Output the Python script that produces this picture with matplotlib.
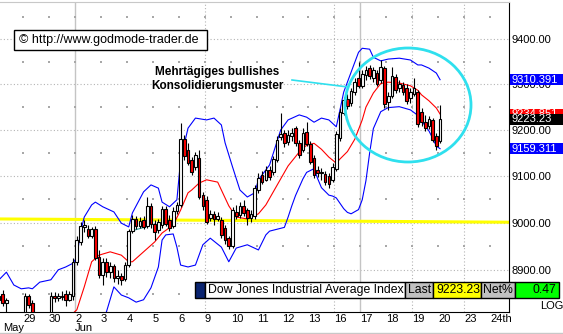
import matplotlib
matplotlib.use("Agg")
import matplotlib.pyplot as plt
from matplotlib.patches import Rectangle, Ellipse
from matplotlib.lines import Line2D
from matplotlib.ticker import FixedLocator, NullLocator, NullFormatter

plt.rcParams['font.family'] = ['Liberation Sans', 'DejaVu Sans']

# ---- data: hourly DJIA bars, 7 per trading day, 28 May .. 20 Jun ----
BARS_PER_DAY = 7
day_labels = ['28', '29', '30', '2', '3', '4', '5', '6', '9', '10', '11',
              '12', '13', '16', '17', '18', '19', '20', '23', '24th']

opens = [8837, 8849, 8830, 8807, 8799, 8795, 8799, 8803, 8845, 8830,
         8807, 8799, 8795, 8801, 8803, 8845, 8841, 8845, 8849, 8837,
         8845, 8917, 8959, 8991, 8987, 8972, 8987, 8927, 8889, 8917,
         8895, 8908, 8883, 8887, 8881, 8910, 8982, 9008, 8993, 9006,
         8993, 9036, 8997, 8984, 8995, 9029, 9006, 8993, 9025, 9038,
         9180, 9157, 9135, 9120, 9139, 9059, 9049, 9010, 9019, 9008,
         9006, 8989, 8967, 8951, 9023, 9016, 9036, 9027, 9010, 9014,
         9070, 9102, 9092, 9113, 9109, 9135, 9185, 9193, 9174, 9187,
         9204, 9172, 9157, 9196, 9169, 9139, 9113, 9107, 9104, 9100,
         9092, 9115, 9183, 9237, 9268, 9259, 9283, 9314, 9296, 9321,
         9336, 9314, 9325, 9310, 9336, 9261, 9274, 9316, 9292, 9299,
         9292, 9270, 9279, 9283, 9239, 9217, 9209, 9222, 9187, 9176]
highs = [8853, 8858, 8841, 8809, 8807, 8803, 8809, 8851, 8849, 8837,
         8809, 8805, 8805, 8809, 8853, 8853, 8851, 8855, 8858, 8855,
         8925, 8972, 9002, 9006, 8995, 8991, 8993, 8942, 8925, 8925,
         8917, 8912, 8900, 8893, 8917, 8987, 9016, 9014, 9012, 9014,
         9055, 9042, 9006, 9008, 9036, 9036, 9016, 9034, 9044, 9215,
         9189, 9172, 9141, 9152, 9157, 9066, 9057, 9027, 9025, 9023,
         9012, 8995, 8972, 9034, 9038, 9044, 9049, 9032, 9027, 9081,
         9107, 9111, 9122, 9122, 9143, 9187, 9237, 9200, 9200, 9204,
         9209, 9178, 9204, 9217, 9176, 9146, 9122, 9117, 9111, 9107,
         9128, 9198, 9248, 9272, 9279, 9292, 9314, 9350, 9332, 9341,
         9343, 9338, 9332, 9354, 9341, 9283, 9338, 9323, 9310, 9305,
         9301, 9292, 9314, 9288, 9248, 9233, 9230, 9226, 9193, 9255]
lows = [8830, 8824, 8811, 8791, 8785, 8785, 8795, 8799, 8820, 8799,
        8791, 8787, 8789, 8795, 8799, 8832, 8834, 8837, 8824, 8834,
        8837, 8910, 8953, 8980, 8967, 8967, 8921, 8883, 8868, 8885,
        8883, 8874, 8870, 8868, 8876, 8906, 8978, 8987, 8989, 8987,
        8989, 8989, 8963, 8978, 8989, 8993, 8982, 8989, 9019, 9034,
        9135, 9124, 9102, 9113, 9051, 9027, 8997, 9004, 8995, 9004,
        8967, 8955, 8944, 8946, 9008, 9010, 9014, 8995, 9002, 9008,
        9064, 9083, 9090, 9092, 9102, 9130, 9178, 9163, 9167, 9176,
        9165, 9139, 9152, 9165, 9126, 9096, 9098, 9092, 9081, 9074,
        9087, 9111, 9176, 9233, 9246, 9252, 9277, 9292, 9292, 9310,
        9312, 9305, 9296, 9303, 9248, 9244, 9270, 9281, 9283, 9277,
        9257, 9259, 9274, 9207, 9209, 9198, 9202, 9174, 9157, 9172]
closes = [8845, 8830, 8837, 8799, 8795, 8799, 8807, 8845, 8826, 8807,
          8799, 8795, 8801, 8805, 8845, 8841, 8845, 8843, 8837, 8849,
          8917, 8963, 8993, 8995, 8972, 8987, 8925, 8889, 8917, 8895,
          8908, 8883, 8887, 8879, 8910, 8982, 9008, 8993, 9004, 8991,
          9036, 8997, 8980, 9002, 9029, 8997, 8989, 9025, 9038, 9180,
          9143, 9128, 9109, 9146, 9055, 9036, 9002, 9019, 9008, 9014,
          8974, 8963, 8951, 9027, 9014, 9036, 9021, 9010, 9019, 9074,
          9096, 9087, 9113, 9098, 9137, 9178, 9191, 9172, 9189, 9193,
          9172, 9146, 9193, 9169, 9130, 9102, 9107, 9109, 9087, 9083,
          9120, 9191, 9239, 9266, 9252, 9285, 9305, 9296, 9323, 9332,
          9318, 9332, 9301, 9338, 9257, 9274, 9318, 9288, 9301, 9283,
          9263, 9283, 9292, 9213, 9217, 9204, 9224, 9178, 9165, 9223.23]

# Bollinger bands / moving average, read at sample bars
upper_idx = [0, 2, 4, 6, 8, 9, 11, 14, 16, 18, 20, 21, 22, 23, 25, 26, 28, 31, 33, 35,
             36, 39, 41, 43, 44, 46, 48, 49, 51, 53, 56, 58, 60, 61, 63, 65, 67, 69, 70, 73,
             76, 78, 81, 83, 85, 87, 89, 91, 92, 93, 95, 97, 98, 100, 101, 103, 105, 108, 111, 113,
             114, 116, 118, 119]
upper_val = [8879, 8895, 8868, 8860, 8862, 8860, 8874, 8879, 8900, 8906, 8914, 8927, 8980, 9012, 9038, 9044, 9034, 9023, 8999, 8991,
             9021, 9066, 9081, 9074, 9044, 9034, 9049, 9135, 9204, 9226, 9222, 9226, 9211, 9172, 9120, 9070, 9055, 9064, 9092, 9124,
             9200, 9222, 9233, 9228, 9217, 9226, 9222, 9207, 9244, 9283, 9327, 9371, 9380, 9378, 9360, 9352, 9356, 9358, 9354, 9343,
             9343, 9336, 9325, 9310.391]
mid_idx = [0, 10, 18, 21, 23, 25, 27, 30, 33, 35, 36, 39, 42, 44, 47, 49, 51, 52, 54, 56,
           59, 60, 62, 64, 67, 70, 72, 73, 76, 78, 81, 83, 85, 87, 89, 91, 92, 94, 96, 98,
           99, 101, 103, 105, 108, 111, 113, 114, 116, 118, 119]
mid_val = [8760, 8770, 8795, 8816, 8864, 8917, 8931, 8938, 8931, 8917, 8917, 8938, 8959, 8978, 8995, 9027, 9064, 9070, 9085, 9092,
           9087, 9070, 9036, 9012, 9008, 9019, 9038, 9052, 9094, 9122, 9152, 9167, 9171, 9158, 9141, 9128, 9137, 9153, 9180, 9222,
           9250, 9281, 9302, 9305, 9303, 9297, 9287, 9277, 9264, 9248, 9234.851]
lower_idx = [0, 15, 22, 26, 29, 31, 33, 35, 37, 39, 41, 43, 44, 45, 47, 48, 49, 51, 53, 55,
             57, 60, 62, 64, 67, 70, 72, 73, 77, 78, 79, 80, 82, 83, 85, 86, 87, 89, 90, 91,
             93, 94, 95, 97, 98, 99, 100, 101, 103, 105, 108, 111, 113, 114, 116, 117, 118, 119]
lower_val = [8720, 8700, 8720, 8770, 8812, 8864, 8847, 8841, 8832, 8837, 8862, 8906, 8963, 8974, 8976, 8948, 8910, 8906, 8910, 8953,
             8967, 8948, 8917, 8946, 8953, 8942, 8974, 8982, 8990, 9012, 9036, 9058, 9094, 9108, 9116, 9094, 9075, 9059, 9057, 9053,
             9030, 9022, 9019, 9028, 9049, 9090, 9150, 9203, 9240, 9249, 9251, 9244, 9232, 9220, 9198, 9182, 9165, 9159.311]

support_idx = [0, 138]
support_val = [9008, 9001]
old_trend_idx = [36, 40]
old_trend_val = [8983, 8992]

price_ticks = [8900, 9000, 9100, 9200, 9300, 9400]
title = 'Dow Jones Industrial Average Index'
last_txt = '9223.23'
net_txt = '0.47'
upper_txt = '9310.391'
lower_txt = '9159.311'
mid_txt = '9234.851'

# ---- figure ----
W, H = 563, 334
fig = plt.figure(figsize=(W / 100, H / 100), dpi=100)
ax = fig.add_axes([0, 1 - 312 / H, 509 / W, 310 / H])
ax.set_yscale('log')
ax.set_xlim(0.27, 137.6)
ax.set_ylim(8811.4, 9483.5)


def fx(px):
    return px / W


def fy(py):
    return 1 - py / H


# grid
boundaries = [k * BARS_PER_DAY - 0.5 for k in range(1, len(day_labels))]
for p in price_ticks:
    ax.axhline(p, color='#b4b4b4', lw=0.8, ls=(0, (1, 2)), zorder=0)
for b in (boundaries[2], boundaries[13]):
    ax.axvline(b, color='#c4c4c4', lw=1.0, zorder=0)
for b in (boundaries[7], boundaries[12], boundaries[15], boundaries[17]):
    ax.axvline(b, color='#b4b4b4', lw=0.8, ls=(0, (1, 2)), zorder=0)
dot_x, dot_y = [], []
for b in boundaries:
    for lvl in range(8850, 9500, 100):
        dot_x.append(b)
        dot_y.append(lvl)
ax.scatter(dot_x, dot_y, s=0.8, marker='s', color='#a8a8a8', linewidths=0, zorder=0)

# support lines
ax.plot(support_idx, support_val, color='#ffff00', lw=2.2, zorder=1)
ax.plot(old_trend_idx, old_trend_val, color='#2a9a9a', lw=0.8, zorder=1)

# bands
ax.plot(upper_idx, upper_val, color='#0000ff', lw=0.8, zorder=2)
ax.plot(lower_idx, lower_val, color='#0000ff', lw=0.8, zorder=2)
ax.plot(mid_idx, mid_val, color='#ff0000', lw=0.8, zorder=2)

# candles
idx = list(range(len(closes)))
ax.vlines(idx, lows, highs, color='black', lw=0.8, zorder=3)
body_bottom = [min(o, c) for o, c in zip(opens, closes)]
body_height = [max(abs(c - o), 0.8) for o, c in zip(opens, closes)]
fills = ['#ff0000' if c < o else 'white' for o, c in zip(opens, closes)]
ax.bar(idx, body_height, bottom=body_bottom, width=0.72, color=fills,
       edgecolor='black', linewidth=0.8, zorder=4)

# axes styling
ax.spines['left'].set_visible(False)
ax.spines['top'].set_color('#c8c8c8')
ax.spines['right'].set_color('black')
ax.spines['bottom'].set_color('black')
ax.yaxis.tick_right()
ax.yaxis.set_major_locator(FixedLocator(price_ticks))
ax.set_yticklabels(['%.2f' % p for p in price_ticks])
ax.yaxis.set_minor_locator(NullLocator())
ax.yaxis.set_minor_formatter(NullFormatter())
ax.tick_params(axis='y', length=0, pad=2, labelsize=8)
ax.set_xticks(boundaries)
ax.set_xticklabels(day_labels[1:])
ax.tick_params(axis='x', length=0, pad=1.5, labelsize=8)
for lbl in ax.get_xticklabels():
    lbl.set_horizontalalignment('left')

fig.text(fx(3), fy(328), 'May', fontsize=8, va='center', ha='left')
fig.text(fx(75), fy(328), 'Jun', fontsize=8, va='center', ha='left')
fig.text(fx(540), fy(306), 'LOG', fontsize=8, va='center', ha='left')
fig.add_artist(Line2D([0, 1], [fy(332.5), fy(332.5)], color='#c8c8c8', lw=1,
                      transform=fig.transFigure))


# value boxes on the price scale
def side_box(value, text, face, z):
    ypx = ax.transData.transform((0, value))[1]
    fig.add_artist(Rectangle((fx(510), (ypx - 5.5) / H), fx(53), 11 / H,
                             transform=fig.transFigure, fc=face, ec='none', zorder=z))
    fig.text(fx(511), ypx / H, text, color='white', fontsize=8, va='center',
             ha='left', zorder=z + 0.5)


side_box(upper_val[-1], upper_txt, '#0000ff', 5)
side_box(lower_val[-1], lower_txt, '#0000ff', 5)
side_box(mid_val[-1], mid_txt, '#ff0000', 5)
side_box(closes[-1], last_txt, 'black', 7)

# copyright box
fig.add_artist(Rectangle((fx(14), fy(50)), fx(193), 20 / H, transform=fig.transFigure,
                         fc='white', ec='black', lw=1, zorder=5))
fig.text(fx(19), fy(40), '\u00a9 http://www.godmode-trader.de', fontsize=9,
         va='center', ha='left', zorder=6)

# annotation
fig.text(fx(217), fy(79), 'Mehrt\u00e4giges bullishes\nKonsolidierungsmuster',
         fontsize=8.5, fontweight='bold', ha='center', va='center',
         multialignment='center', zorder=6)
fig.add_artist(Line2D([fx(292), fx(348)], [fy(80), fy(87)], color='#2fe0ee', lw=1.2,
                      transform=fig.transFigure, zorder=6))
fig.add_artist(Ellipse((fx(408), fy(105)), fx(126), 114 / H, transform=fig.transFigure,
                       fill=False, ec='#2fe0ee', lw=2, zorder=6))

# info bar
y0, y1 = 281.7, 298.3
cells = [(195, 205, '#0a2470'), (205, 405, 'white'), (405, 433, '#c0c0c0'),
         (433, 481, '#ffff00'), (481, 515, '#c0c0c0'), (515, 559, '#00ff00')]
for a, b, face in cells:
    fig.add_artist(Rectangle((fx(a), fy(y1)), fx(b - a), (y1 - y0) / H,
                             transform=fig.transFigure, fc=face, ec='black', lw=1, zorder=5))
ym = fy((y0 + y1) / 2)
fig.text(fx(208), ym, title, fontsize=8.8, va='center', ha='left', zorder=6)
fig.text(fx(408), ym, 'Last', fontsize=8.8, va='center', ha='left', zorder=6)
fig.text(fx(480), ym, last_txt, fontsize=8.8, va='center', ha='right', zorder=6)
fig.text(fx(483), ym, 'Net%', fontsize=8.8, va='center', ha='left', zorder=6)
fig.text(fx(556), ym, net_txt, fontsize=8.8, va='center', ha='right', zorder=6)

fig.savefig('out.png', dpi=100)
